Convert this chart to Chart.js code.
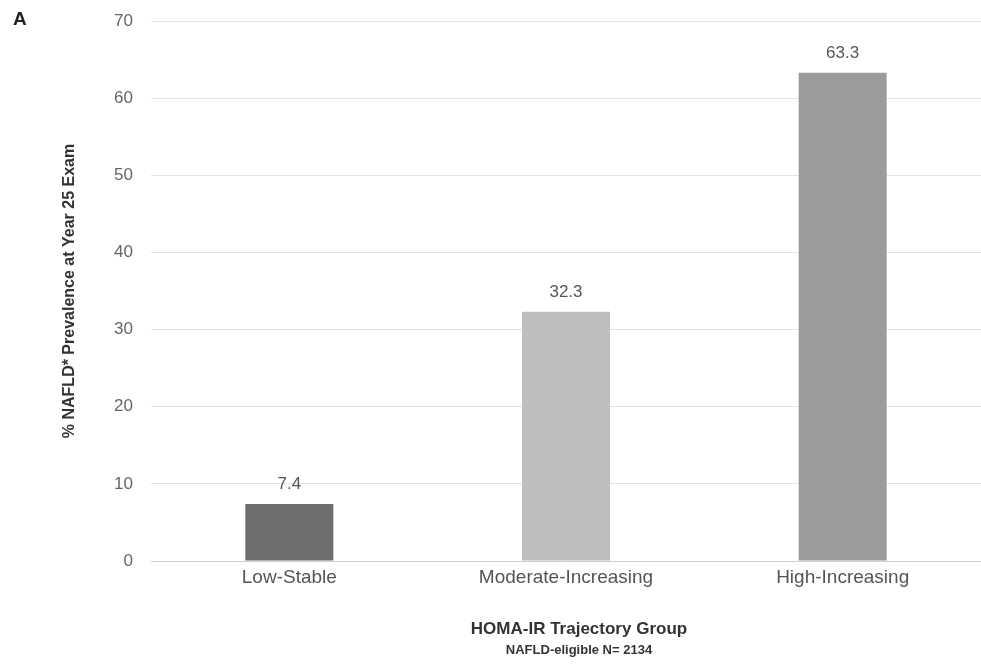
<!DOCTYPE html>
<html>
<head>
<meta charset="utf-8">
<script src="https://cdn.jsdelivr.net/npm/chart.js@4"></script>
<style>
  html, body { margin: 0; padding: 0; background: #fff; }
  #wrap { position: relative; width: 981px; height: 671px; }
  #panel { position: absolute; left: 13px; top: 8px; font: bold 19px "Liberation Sans", Arial, sans-serif; color: #222; }
  .xt { position: absolute; left: 379px; width: 400px; text-align: center; font-family: "Liberation Sans", Arial, sans-serif; font-weight: bold; color: #333; white-space: nowrap; }
  #xtitle { top: 619px; font-size: 17px; }
  #sub { top: 642px; font-size: 13px; }
</style>
</head>
<body>
<div id="wrap">
  <canvas id="c" width="981" height="671"></canvas>
  <div id="panel">A</div>
  <div id="xtitle" class="xt">HOMA-IR Trajectory Group</div>
  <div id="sub" class="xt">NAFLD-eligible N= 2134</div>
</div>
<script>
const categories = ["Low-Stable", "Moderate-Increasing", "High-Increasing"];
const prevalence = [7.4, 32.3, 63.3];
const valueLabels = ["7.4", "32.3", "63.3"];
const yTicks = [0, 10, 20, 30, 40, 50, 60, 70];
const barColors = ["#6e6e6e", "#bebebe", "#9b9b9b"];

const valueLabelPlugin = {
  id: "valueLabels",
  afterDatasetsDraw(chart) {
    const ctx = chart.ctx;
    const meta = chart.getDatasetMeta(0);
    ctx.save();
    ctx.font = "17px 'Liberation Sans', Arial, sans-serif";
    ctx.fillStyle = "#555";
    ctx.textAlign = "center";
    ctx.textBaseline = "bottom";
    meta.data.forEach((bar, i) => {
      ctx.fillText(valueLabels[i], bar.x, bar.y - 11);
    });
    ctx.restore();
  }
};

new Chart(document.getElementById("c"), {
  type: "bar",
  data: {
    labels: categories,
    datasets: [{
      data: prevalence,
      backgroundColor: barColors,
      borderWidth: 0,
      categoryPercentage: 1,
      barPercentage: 0.318
    }]
  },
  options: {
    responsive: false,
    animation: false,
    devicePixelRatio: 1,
    layout: { padding: { left: 55, right: 0, top: 21, bottom: 82 } },
    plugins: { legend: { display: false }, tooltip: { enabled: false } },
    scales: {
      x: {
        grid: { display: false, drawTicks: false },
        border: { display: true, color: "#cfcfcf", width: 1 },
        afterFit(scale) { scale.height = 28; },
        ticks: {
          color: "#555",
          padding: 5,
          font: { family: "'Liberation Sans', Arial, sans-serif", size: 19 }
        }
      },
      y: {
        min: 0,
        max: 70,
        afterBuildTicks(scale) { scale.ticks = yTicks.map(v => ({ value: v })); },
        afterFit(scale) { scale.width = 96; scale.paddingTop = 0; scale.paddingBottom = 0; },
        grid: { color: "#e2e2e2", drawTicks: false },
        border: { display: false },
        ticks: {
          color: "#666",
          padding: 18,
          font: { family: "'Liberation Sans', Arial, sans-serif", size: 17 }
        },
        title: {
          display: true,
          text: "% NAFLD* Prevalence at Year 25 Exam",
          color: "#333",
          padding: { top: 5, bottom: 0 },
          font: { family: "'Liberation Sans', Arial, sans-serif", size: 16, weight: "bold" }
        }
      }
    }
  },
  plugins: [valueLabelPlugin]
});
</script>
</body>
</html>
